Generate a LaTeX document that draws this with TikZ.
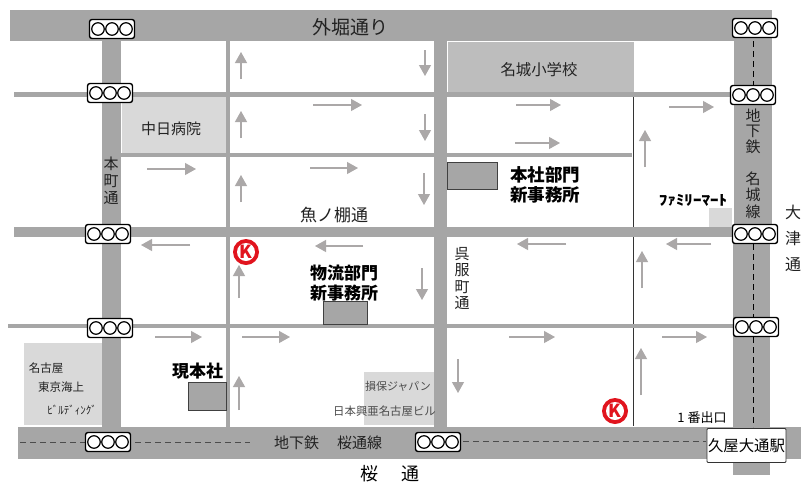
\documentclass[tikz,border=0pt]{standalone}
\usepackage{fontspec}
\usetikzlibrary{arrows.meta}
\setmainfont{Noto Sans CJK JP}
\definecolor{road}{HTML}{A6A6A6}
\definecolor{arrowgray}{HTML}{ABA8A8}
\definecolor{lightbld}{HTML}{D9D9D9}
\definecolor{school}{HTML}{BDBDBD}
\definecolor{ckred}{HTML}{E1141E}
\definecolor{txt}{HTML}{222222}
\tikzset{
  roadfill/.style={fill=road,draw=none},
  bld/.style={fill=lightbld,draw=none},
  office/.style={fill=road,draw=black!75,line width=1pt},
  arr/.style={draw=arrowgray,line width=1.2pt,-{Triangle[width=12pt,length=11pt]}},
  sigbox/.style={draw=black,line width=1.4pt,fill=white,rounded corners=2.5pt,minimum width=45pt,minimum height=19pt,inner sep=0pt},
  siglamp/.style={circle,draw=black,line width=1.2pt,fill=white,minimum size=12.5pt,inner sep=0pt},
  lbl/.style={text=txt,inner sep=0pt,align=center},
  vlbl/.style={text=txt,inner sep=0pt,align=center,font=\fontsize{15}{16.5}\selectfont},
}
\newcommand{\sigl}[3]{%
  \node[sigbox] (#1) at (#2,#3) {};
  \node[siglamp] (#1a) at (#2-14,#3) {};
  \node[siglamp] (#1b) at (#2,#3) {};
  \node[siglamp] (#1c) at (#2+14,#3) {};
}
\newcommand{\circlek}[3]{%
  \node[circle,fill=ckred,minimum size=26pt,inner sep=0pt] (#1) at (#2,#3) {};
  \node[circle,fill=white,minimum size=18pt,inner sep=0pt] (#1i) at (#2,#3) {};
  \node[text=ckred,inner sep=0pt,font=\fontsize{18}{18}\selectfont\bfseries] (#1k) at (#2,#3) {K};
}
\begin{document}
\begin{tikzpicture}[x=1pt,y=-1pt]
\useasboundingbox (0,0) rectangle (801,483);
\fill[white] (0,0) rectangle (801,483);
% buildings
\fill[bld] (122,97) rectangle (226,153);
\fill[school] (448,42) rectangle (634,93);
\fill[bld] (709,208) rectangle (732,227);
\fill[bld] (24,343) rectangle (104,425);
\fill[bld] (364,372) rectangle (436,425);
% roads
\fill[roadfill] (10,10) rectangle (772,41);
\fill[roadfill] (102,41) rectangle (121,427);
\fill[roadfill] (434,41) rectangle (447,427);
\fill[roadfill] (226,41) rectangle (230,427);
\fill[roadfill] (734,41) rectangle (772,232);
\fill[roadfill] (733,232) rectangle (770,475);
\fill[roadfill] (14,92) rectangle (735,97);
\fill[roadfill] (121,153) rectangle (632,157);
\fill[roadfill] (14,227) rectangle (735,237);
\fill[roadfill] (8,324) rectangle (733,328);
\fill[roadfill] (18,427) rectangle (801,459);
\draw[black!80,line width=.8pt] (633.5,97) -- (633.5,227);
\draw[black!80,line width=.8pt] (633.5,237) -- (633.5,324);
\draw[black!80,line width=.8pt] (633,328) -- (633,426);
% dashed
\draw[black,line width=.8pt,dash pattern=on 6pt off 4pt] (753.5,41) -- (753.5,85);
\draw[black,line width=.8pt,dash pattern=on 6pt off 4pt] (753.5,244) -- (753.5,318);
\draw[black,line width=.8pt,dash pattern=on 6pt off 4pt] (753.5,337) -- (753.5,427);
\draw[black!70,line width=1pt,dash pattern=on 6pt off 4pt] (20,442.5) -- (85,442.5);
\draw[black!70,line width=1pt,dash pattern=on 6pt off 4pt] (135,442.5) -- (250,442.5);
\draw[black!70,line width=1pt,dash pattern=on 6pt off 4pt] (463,441) -- (706,441);
% offices
\node[office,minimum width=50pt,minimum height=27pt,inner sep=0pt] (hq) at (472.5,175.5) {};
\node[office,minimum width=44pt,minimum height=23pt,inner sep=0pt] (logi) at (345.5,312.5) {};
\node[office,minimum width=38pt,minimum height=28pt,inner sep=0pt] (cur) at (207.5,396) {};
% arrows
\foreach \x/\a/\b in {241/79/52,241/138/111,241/202/175,239/298/265,239/410/376,645/167/130,642/288/251,641/395/348,
  425/50/76,425/114/141,424/173/205,422/268/300,458/359/393}
  \draw[arr] (\x,\a) -- (\x,\b);
\foreach \y/\a/\b in {105/313/362,169/147/196,168/310/358,105/516/561,143/515/560,107/669/714,
  245/190/141,246/363/315,244/566/517,244/711/666,337/155/202,337/242/290,337/509/555,337/662/707}
  \draw[arr] (\a,\y) -- (\b,\y);
% signals
\sigl{s1}{112}{29}
\sigl{s2}{110}{93}
\sigl{s3}{108}{234}
\sigl{s4}{110}{328}
\sigl{s5}{108}{442}
\sigl{s6}{438}{442}
\sigl{s7}{755}{28}
\sigl{s8}{753}{95}
\sigl{s9}{755}{234}
\sigl{s10}{756}{327}
% circle K
\circlek{k1}{246}{252}
\circlek{k2}{615}{411}
% station
\node[draw=black!80,line width=.8pt,rounded corners=1pt,fill=white,minimum width=79pt,minimum height=34pt,inner sep=0pt,font=\fontsize{15.4}{15.4}\selectfont,text=black] (st) at (746.5,445.5) {久屋大通駅};
% labels
\node[lbl,font=\fontsize{19}{19}\selectfont] (t1) at (350,27) {外堀通り};
\node[lbl,font=\fontsize{15}{15}\selectfont] (t2) at (171,129) {中日病院};
\node[lbl,font=\fontsize{15.4}{15.4}\selectfont] (t3) at (539,70) {名城小学校};
\node[vlbl,font=\fontsize{15}{17}\selectfont] (t4) at (111,181) {本\\町\\通};
\node[lbl,font=\fontsize{17}{17}\selectfont] (t5) at (334,215) {魚ノ棚通};
\node[lbl,font=\fontsize{17.5}{20}\selectfont\bfseries,text=black] (t6) at (545,185) {本社部門\\新事務所};
\node[lbl,font=\fontsize{17}{20}\selectfont\bfseries,text=black] (t7) at (344,283) {物流部門\\新事務所};
\node[lbl,font=\fontsize{17}{17}\selectfont\bfseries,text=black] (t8) at (197.5,371) {現本社};
\node[lbl,font=\fontsize{14}{14}\selectfont\bfseries,text=black] (t9) at (693,200) {\scalebox{1.22}[1]{ﾌｧﾐﾘｰﾏｰﾄ}};
\node[vlbl,font=\fontsize{15}{15.5}\selectfont] (t10) at (753,131) {地\\下\\鉄};
\node[vlbl] (t11) at (753,195) {名\\城\\線};
\node[vlbl,font=\fontsize{16}{26}\selectfont] (t12) at (793,238) {大\\津\\通};
\node[vlbl] (t13) at (462,278.5) {呉\\服\\町\\通};
\node[lbl,font=\fontsize{11.5}{11.5}\selectfont] (t14) at (46,368) {名古屋};
\node[lbl,font=\fontsize{11.5}{11.5}\selectfont] (t15) at (61,387) {東京海上};
\node[lbl,font=\fontsize{11}{11}\selectfont] (t16) at (72,410) {ﾋﾞﾙﾃﾞｨﾝｸﾞ};
\node[lbl,font=\fontsize{11}{11}\selectfont,text=black!70] (t17) at (398,386) {損保ジャパン};
\node[lbl,font=\fontsize{11.4}{11.4}\selectfont,text=black!70] (t18) at (384.5,411) {日本興亜名古屋ビル};
\node[lbl,font=\fontsize{15}{15}\selectfont] (t19) at (328,443) {地下鉄\hspace{18pt}桜通線};
\node[lbl,font=\fontsize{18}{18}\selectfont,text=black] (t20) at (369,474) {桜};
\node[lbl,font=\fontsize{18}{18}\selectfont,text=black] (t21) at (410.5,474) {通};
\node[lbl,font=\fontsize{13}{13}\selectfont,text=black] (t22) at (702,418) {1 番出口};
\end{tikzpicture}
\end{document}
